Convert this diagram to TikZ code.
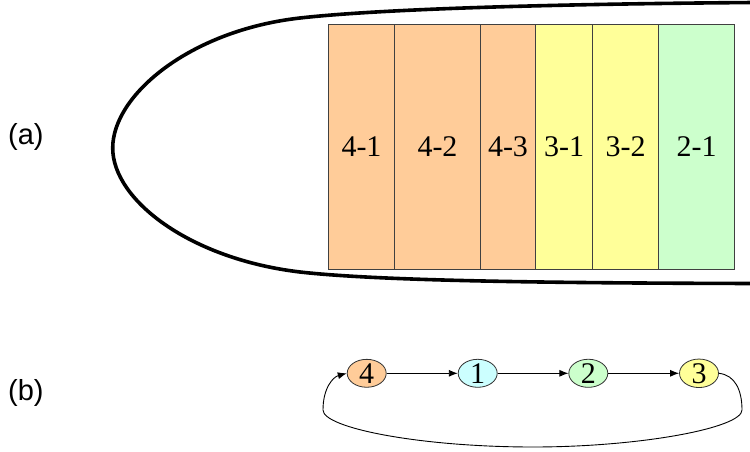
\documentclass[tikz,border=0pt]{standalone}
\usepackage{fontspec}
\setmainfont{Liberation Serif}
\newfontfamily\labelfont{Liberation Sans}
\usetikzlibrary{arrows.meta,shapes.geometric}

\definecolor{peach}{HTML}{FFCC99}
\definecolor{lemon}{HTML}{FFFF99}
\definecolor{mint}{HTML}{CCFFCC}
\definecolor{sky}{HTML}{CCFFFF}

\tikzset{
  segbox/.style={draw=black!75, line width=0.8pt},
  seglabel/.style={font=\fontsize{30}{30}\selectfont, inner sep=0pt},
  partlabel/.style={font=\labelfont\fontsize{29}{29}\selectfont, inner sep=0pt, anchor=base west},
  statenode/.style={ellipse, draw=black!80, line width=0.8pt, minimum width=39pt,
    minimum height=27pt, inner sep=0pt, font=\fontsize{30}{30}\selectfont},
  flow/.style={line width=0.9pt, -{Latex[length=9pt,width=7pt]}},
}

\begin{document}
\begin{tikzpicture}[x=1pt, y=-1pt]
  \useasboundingbox (0,0) rectangle (750,452);
  \clip (0,0) rectangle (750,452);

  % part labels
  \node[partlabel] (la) at (8,144) {(a)};
  \node[partlabel] (lb) at (8,400.5) {(b)};

  % segments inside the outline
  \foreach \xa/\xb/\col/\txt/\nm in {
      328.3/394.7/peach/4-1/s41,
      394.7/480.3/peach/4-2/s42,
      480.3/535.7/peach/4-3/s43,
      535.7/592.7/lemon/3-1/s31,
      592.7/658.7/lemon/3-2/s32,
      658.7/734.7/mint/2-1/s21} {
    \filldraw[segbox, fill=\col] (\xa,24) rectangle (\xb,269);
    \node[seglabel] (\nm) at ({(\xa+\xb)/2},147) {\txt};
  }

  % rounded outline, open to the right
  \draw[line width=3.6pt]
    (754,2.5) .. controls (550,4) and (380,9) .. (300,18)
    .. controls (190,30.4) and (112.7,95) .. (112.7,148)
    .. controls (112.7,200) and (190,259) .. (300,272)
    .. controls (380,281) and (550,283) .. (754,283.5);

  % cycle 4 -> 1 -> 2 -> 3 -> 4
  \node[statenode, fill=peach] (n4) at (366.7,373.3) {4};
  \node[statenode, fill=sky]   (n1) at (477.7,373.3) {1};
  \node[statenode, fill=mint]  (n2) at (588.3,373.3) {2};
  \node[statenode, fill=lemon] (n3) at (699,373.3) {3};

  \draw[flow] (n4) -- (n1);
  \draw[flow] (n1) -- (n2);
  \draw[flow] (n2) -- (n3);
  \draw[flow] (n3.east) .. controls (735,375) and (742,390) .. (742,410)
    .. controls (742,428) and (640,447) .. (533,447)
    .. controls (420,447) and (323,428) .. (323,410)
    .. controls (323,388) and (333,377) .. (n4.west);
\end{tikzpicture}
\end{document}
